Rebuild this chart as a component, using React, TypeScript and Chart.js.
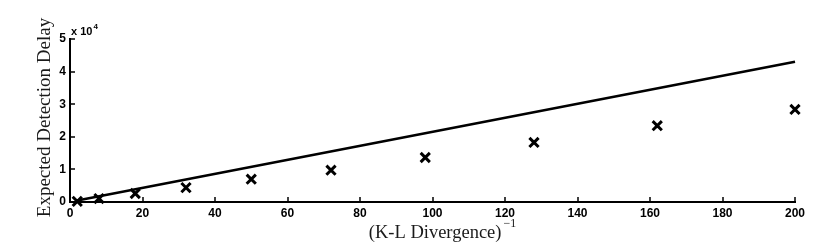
import React, { useEffect, useRef } from "react";
import { Chart, registerables } from "chart.js";

Chart.register(...registerables);

// Data (x: inverse K-L divergence, y: expected detection delay)
const xTickValues = [0, 20, 40, 60, 80, 100, 120, 140, 160, 180, 200];
const yTickValues = [0, 10000, 20000, 30000, 40000, 50000];
const crossX = [2, 8, 18, 32, 50, 72, 98, 128, 162, 200];
const crossY = [200, 1050, 2600, 4400, 7000, 9750, 13660, 18270, 23400, 28400];
const lineX = [2, 200];
const lineY = [430, 43000];

const xLabel = "(K-L Divergence)";
const xLabelSup = "\u22121";
const yLabel = "Expected Detection Delay";
const yMultiplier = "x 10";
const yMultiplierExp = "4";

const decorPlugin = {
  id: "decor",
  afterDraw(chart: any) {
    const ctx = chart.ctx as CanvasRenderingContext2D;
    const xs = chart.scales.x;
    const ys = chart.scales.y;
    const area = chart.chartArea;
    ctx.save();
    ctx.strokeStyle = "#000";
    ctx.lineWidth = 1.5;
    ctx.beginPath();
    for (const v of xTickValues) {
      const px = Math.round(xs.getPixelForValue(v));
      ctx.moveTo(px, area.bottom);
      ctx.lineTo(px, area.bottom - 5);
    }
    for (const v of yTickValues) {
      const py = Math.round(ys.getPixelForValue(v));
      ctx.moveTo(area.left, py);
      ctx.lineTo(area.left + 5, py);
    }
    ctx.stroke();

    // multiplier
    ctx.fillStyle = "#000";
    ctx.textBaseline = "alphabetic";
    ctx.textAlign = "left";
    ctx.font = "bold 11px 'Liberation Sans', Arial, sans-serif";
    ctx.fillText(yMultiplier, area.left + 1, area.top - 4);
    const w = ctx.measureText(yMultiplier).width;
    ctx.font = "bold 8px 'Liberation Sans', Arial, sans-serif";
    ctx.fillText(yMultiplierExp, area.left + 2 + w, area.top - 10);

    // x axis title
    ctx.fillStyle = "#1a1a1a";
    ctx.font = "18.5px 'Liberation Serif', 'Times New Roman', serif";
    const mw = ctx.measureText(xLabel).width;
    ctx.font = "12px 'Liberation Serif', 'Times New Roman', serif";
    const sw = ctx.measureText(xLabelSup).width;
    const cx = (area.left + area.right) / 2 + 10;
    const startX = cx - (mw + sw + 2) / 2;
    ctx.font = "18.5px 'Liberation Serif', 'Times New Roman', serif";
    ctx.fillText(xLabel, startX, 238);
    ctx.font = "12px 'Liberation Serif', 'Times New Roman', serif";
    ctx.fillText(xLabelSup, startX + mw + 2, 227);

    // y axis title
    ctx.save();
    ctx.translate(50, 117.5);
    ctx.rotate(-Math.PI / 2);
    ctx.textAlign = "center";
    ctx.font = "19px 'Liberation Serif', 'Times New Roman', serif";
    ctx.fillText(yLabel, 0, 0);
    ctx.restore();

    ctx.restore();
  },
};

export default function App() {
  const canvasRef = useRef<HTMLCanvasElement | null>(null);

  useEffect(() => {
    if (!canvasRef.current) return;
    const tickFont = { family: "'Liberation Sans', Arial, sans-serif", size: 12, weight: "bold" as const };
    const chart = new Chart(canvasRef.current, {
      type: "scatter",
      data: {
        datasets: [
          {
            type: "line",
            data: lineX.map((x, i) => ({ x, y: lineY[i] })),
            borderColor: "#000",
            borderWidth: 2.6,
            pointRadius: 0,
            fill: false,
            clip: false,
          } as any,
          {
            data: crossX.map((x, i) => ({ x, y: crossY[i] })),
            pointStyle: "crossRot",
            pointRadius: 6.5,
            borderColor: "#000",
            backgroundColor: "#000",
            pointBorderWidth: 3,
            borderWidth: 3,
            clip: false,
          } as any,
        ],
      },
      options: {
        animation: false,
        responsive: false,
        maintainAspectRatio: false,
        layout: { padding: { top: 39, right: 36, left: 0, bottom: 0 } },
        plugins: { legend: { display: false }, tooltip: { enabled: false } },
        scales: {
          x: {
            type: "linear",
            min: 0,
            max: 200,
            afterFit: (s: any) => { s.height = 50; },
            afterBuildTicks: (s: any) => { s.ticks = xTickValues.map((v) => ({ value: v })); },
            ticks: { color: "#000", font: tickFont, padding: 4, maxRotation: 0, autoSkip: false },
            grid: { display: true, drawOnChartArea: false, drawTicks: false },
            border: { display: true, color: "#000", width: 2 },
          },
          y: {
            type: "linear",
            min: 0,
            max: 50000,
            afterFit: (s: any) => { s.width = 70; },
            afterBuildTicks: (s: any) => { s.ticks = yTickValues.map((v) => ({ value: v })); },
            ticks: {
              color: "#000",
              font: tickFont,
              padding: 4,
              callback: (v: any) => String(Number(v) / 10000),
            },
            grid: { display: true, drawOnChartArea: false, drawTicks: false },
            border: { display: true, color: "#000", width: 2 },
          },
        },
      },
      plugins: [decorPlugin],
    });
    return () => chart.destroy();
  }, []);

  return (
    <div style={{ position: "fixed", left: 0, top: 0, width: 831, height: 252, background: "#fff" }}>
      <canvas ref={canvasRef} width={831} height={252} style={{ display: "block" }} />
    </div>
  );
}
